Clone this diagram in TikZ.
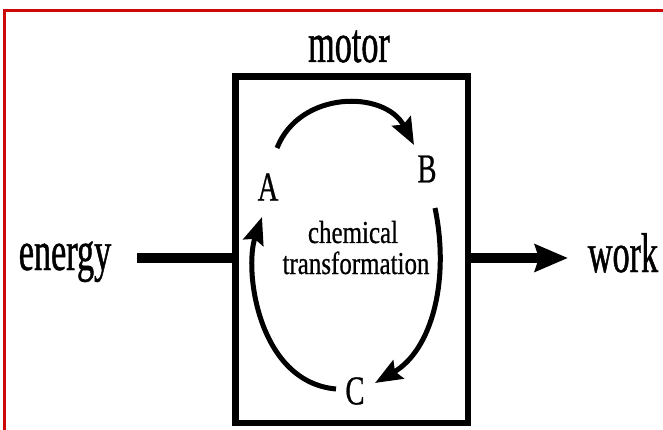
\documentclass[tikz,border=0pt]{standalone}
\usepackage{fontspec}
\setmainfont{Liberation Serif}
% tall, narrow serif faces for the labels
\newfontfamily\wordfont[FakeStretch=0.61,FakeBold=0.8]{Liberation Serif}
\newfontfamily\letterfont[FakeStretch=0.7,FakeBold=0.6]{Liberation Serif}
\newfontfamily\notefont[FakeStretch=0.78,FakeBold=0.6]{Liberation Serif}
\usetikzlibrary{arrows.meta,calc}
\definecolor{frameRed}{RGB}{204,8,8}

\begin{document}
\begin{tikzpicture}[x=1pt,y=-1pt,
  bigword/.style={font=\wordfont\fontsize{56}{60}\selectfont, inner sep=0pt, anchor=base},
  letter/.style={font=\letterfont\fontsize{41}{44}\selectfont, inner sep=0pt},
  note/.style={font=\notefont\fontsize{32}{36}\selectfont, inner sep=0pt, anchor=base},
  cyc/.style={line width=5pt, -{Stealth[length=27pt,width=21pt,inset=4pt]}},
  flow/.style={line width=9.5pt},
  motorframe/.style={draw, line width=6.5pt, inner sep=0pt,
    minimum width=232.5pt, minimum height=346.5pt},
]
\useasboundingbox (0,0) rectangle (663,430);
\fill[white] (0,0) rectangle (663,430);

% red frame along the top and left edges
\draw[frameRed, line width=3pt] (4.7,430) -- (4.7,10.7) -- (663,10.7);

% the motor
\node[motorframe] (motorbox) at (351.75,249.75) {};
\node[bigword] (motor) at (349,62) {motor};

% input and output
\node[bigword] (energy) at (65,270) {energy};
\node[bigword] (work) at (623,272) {work};
\coordinate (ein) at (137,258);
\coordinate (wout) at (568,258);
\draw[flow] (ein) -- (ein -| motorbox.west);
\draw[flow, -{Stealth[length=33pt,width=27pt,inset=4pt]}] (motorbox.east |- wout) -- (wout);

% the cycle of states
\node[letter] (A) at (268,187) {A};
\node[letter] (B) at (427,169) {B};
\node[letter] (C) at (355,391) {C};
\node[note] (chem) at (353,243) {chemical};
\node[note] (trans) at (356,274) {transformation};

\draw[cyc] ([shift={(9,-39)}]A.center) .. controls (300,90) and (385,90) .. ([shift={(-13,-24)}]B.center);
\draw[cyc] ([shift={(8,39)}]B.center) .. controls (450,280) and (432,350) .. ([shift={(20,-8)}]C.center);
\draw[cyc] ([shift={(-19,-2)}]C.center) .. controls (258,382) and (244,270) .. ([shift={(-6,30)}]A.center);
\end{tikzpicture}
\end{document}
